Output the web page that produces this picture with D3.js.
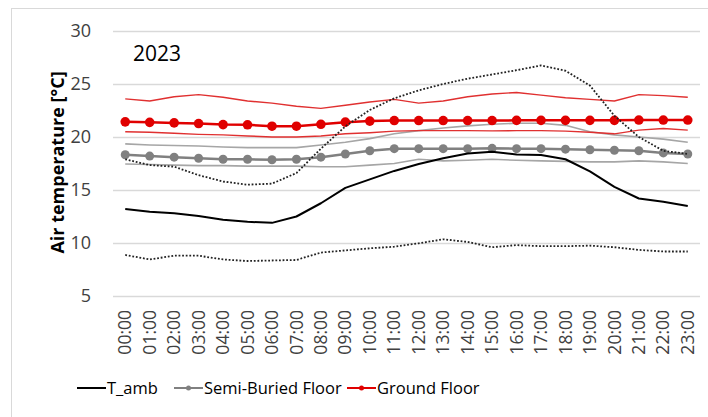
<!DOCTYPE html>
<html>
<head>
<meta charset="utf-8">
<script src="https://cdn.jsdelivr.net/npm/d3@7"></script>
<style>
  html, body { margin: 0; padding: 0; background: #fff; }
  svg { display: block; font-family: "Open Sans", "Noto Sans", sans-serif; }
</style>
</head>
<body>
<svg id="chart" width="708" height="417"></svg>
<script>
// Hours of the day
const hours = ["00:00","01:00","02:00","03:00","04:00","05:00","06:00","07:00","08:00","09:00","10:00","11:00",
               "12:00","13:00","14:00","15:00","16:00","17:00","18:00","19:00","20:00","21:00","22:00","23:00"];

// Ambient temperature: mean, max, min (°C)
const tAmb    = [13.2,12.95,12.8,12.55,12.2,12.0,11.9,12.5,13.75,15.2,16.0,16.8,17.45,18.0,18.45,18.6,18.35,18.3,17.9,16.75,15.3,14.2,13.9,13.5];
const tAmbMax = [17.9,17.35,17.2,16.4,15.8,15.5,15.6,16.6,18.9,21.0,22.55,23.65,24.4,25.0,25.5,25.9,26.3,26.75,26.25,24.85,22.0,20.0,18.7,18.4];
const tAmbMin = [8.87,8.45,8.8,8.8,8.45,8.3,8.35,8.4,9.1,9.3,9.5,9.65,9.97,10.35,10.1,9.6,9.8,9.7,9.7,9.75,9.6,9.35,9.2,9.2];

// Semi-buried floor: mean, max, min (°C)
const semiMean = [18.33,18.2,18.1,18.0,17.9,17.9,17.85,17.9,18.1,18.4,18.7,18.9,18.9,18.9,18.9,18.93,18.9,18.9,18.85,18.8,18.75,18.7,18.5,18.4];
const semiMax  = [19.35,19.25,19.2,19.15,19.05,19.0,19.0,19.0,19.25,19.5,19.85,20.3,20.6,20.85,21.05,21.2,21.3,21.3,21.1,20.5,20.2,20.0,19.8,19.5];
const semiMin  = [17.45,17.4,17.35,17.3,17.3,17.25,17.25,17.25,17.2,17.2,17.35,17.5,17.9,17.75,17.8,17.9,17.8,17.75,17.7,17.65,17.65,17.75,17.65,17.5];

// Ground floor: mean, max, min (°C)
const groundMean = [21.43,21.38,21.33,21.27,21.17,21.15,21.02,21.02,21.2,21.4,21.5,21.55,21.55,21.55,21.55,21.55,21.57,21.57,21.57,21.57,21.57,21.6,21.6,21.6];
const groundMax  = [23.6,23.4,23.8,24.0,23.75,23.4,23.2,22.9,22.7,23.0,23.3,23.55,23.2,23.4,23.8,24.05,24.2,23.95,23.7,23.55,23.4,24.0,23.9,23.75];
const groundMin  = [20.5,20.45,20.35,20.25,20.2,20.1,20.0,20.0,20.1,20.3,20.4,20.55,20.6,20.6,20.6,20.58,20.6,20.6,20.55,20.45,20.3,20.65,20.8,20.65];

const yTicks = [5, 10, 15, 20, 25, 30];
const yearLabel = "2023";
const yTitle = "Air temperature [°C]";
const legendItems = [
  { name: "T_amb", color: "#000000", marker: false },
  { name: "Semi-Buried Floor", color: "#808080", marker: true },
  { name: "Ground Floor", color: "#e00000", marker: true }
];

const svg = d3.select("#chart");

// Outer chart frame
svg.append("rect")
  .attr("x", 11.5).attr("y", 8.5).attr("width", 800).attr("height", 500)
  .attr("fill", "none").attr("stroke", "#d9d9d9").attr("stroke-width", 1);

const plot = { left: 113, right: 700, top: 31, bottom: 296 };

const x = d3.scaleBand().domain(hours).range([plot.left, plot.right]);
const xc = d => x(d) + x.bandwidth() / 2;
const y = d3.scaleLinear().domain([5, 30]).range([plot.bottom, plot.top]);

// Horizontal gridlines and value labels
const yAxis = d3.axisLeft(y).tickValues(yTicks).tickSize(-(plot.right - plot.left)).tickPadding(22);
const gy = svg.append("g").attr("transform", `translate(${plot.left},0)`).call(yAxis);
gy.select(".domain").remove();
gy.selectAll(".tick line").attr("stroke", "#d9d9d9").attr("stroke-width", 1.3);
gy.selectAll(".tick text")
  .attr("fill", "#404040").attr("font-size", 18).attr("font-family", "Open Sans, sans-serif");

// Hour labels, rotated
const xAxis = d3.axisBottom(x).tickSize(0).tickPadding(0);
const gx = svg.append("g").attr("transform", `translate(0,${plot.bottom})`).call(xAxis);
gx.select(".domain").remove();
gx.selectAll(".tick text")
  .attr("fill", "#404040").attr("font-size", 17.5).attr("font-family", "Open Sans, sans-serif")
  .attr("text-anchor", "end")
  .attr("transform", "translate(0,14) rotate(-90)")
  .attr("dx", 0).attr("dy", "0.35em").attr("x", 0).attr("y", 0);

// Axis title
svg.append("text")
  .attr("transform", `translate(64,${(plot.top + plot.bottom) / 2 - 1}) rotate(-90)`)
  .attr("text-anchor", "middle")
  .attr("font-size", 18).attr("font-weight", "bold").attr("fill", "#000")
  .text(yTitle);

// Year label
svg.append("text")
  .attr("x", 133).attr("y", 61)
  .attr("font-size", 21).attr("fill", "#000")
  .text(yearLabel);

const line = d3.line().x((d, i) => xc(hours[i])).y(d => y(d));

function drawLine(values, color, width, dash) {
  svg.append("path")
    .datum(values)
    .attr("d", line)
    .attr("fill", "none")
    .attr("stroke", color)
    .attr("stroke-width", width)
    .attr("stroke-linejoin", "round")
    .attr("stroke-dasharray", dash || null);
}

function drawMarkers(values, color, r) {
  svg.append("g").selectAll("circle")
    .data(values)
    .join("circle")
    .attr("cx", (d, i) => xc(hours[i]))
    .attr("cy", d => y(d))
    .attr("r", r)
    .attr("fill", color);
}

// Semi-buried floor band and mean
drawLine(semiMax, "#a6a6a6", 1.6);
drawLine(semiMin, "#a6a6a6", 1.6);
drawLine(semiMean, "#808080", 2.5);
drawMarkers(semiMean, "#808080", 4.5);

// Ground floor band and mean
drawLine(groundMax, "#e03030", 1.4);
drawLine(groundMin, "#e03030", 1.4);
drawLine(groundMean, "#e00000", 2.5);
drawMarkers(groundMean, "#e00000", 4.8);

// Ambient temperature
drawLine(tAmbMax, "#222", 1.8, "1.8,1.8");
drawLine(tAmbMin, "#222", 1.8, "1.8,1.8");
drawLine(tAmb, "#000", 2);

// Legend
const legend = svg.append("g").attr("transform", "translate(0,388)");
const legendX = [77, 174, 347];
legendItems.forEach((it, i) => {
  const g = legend.append("g").attr("transform", `translate(${legendX[i]},0)`);
  g.append("line").attr("x1", 0).attr("x2", 29).attr("y1", 0).attr("y2", 0)
    .attr("stroke", it.color).attr("stroke-width", 2);
  if (it.marker) g.append("circle").attr("cx", 14.5).attr("cy", 0).attr("r", 2.5).attr("fill", it.color);
  g.append("text").attr("x", 30).attr("y", 0).attr("dy", "0.35em")
    .attr("font-size", 16.5).attr("fill", "#000")
    .text(it.name);
});
</script>
</body>
</html>
